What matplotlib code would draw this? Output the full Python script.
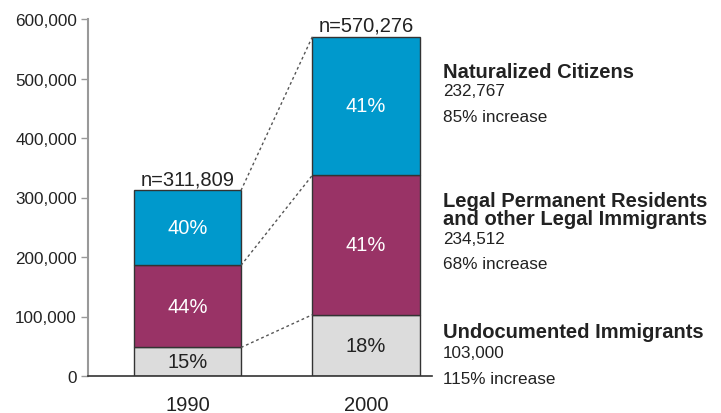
import matplotlib
matplotlib.use("Agg")
import matplotlib.pyplot as plt
from matplotlib.ticker import FuncFormatter

plt.rcParams['font.family'] = ['Liberation Sans', 'DejaVu Sans']

years = ["1990", "2000"]
undocumented = [47907, 103000]
legal_perm = [138000, 234512]
naturalized = [125902, 232767]
totals_label = ["n=311,809", "n=570,276"]
pct_undoc = ["15%", "18%"]
pct_legal = ["44%", "41%"]
pct_nat = ["40%", "41%"]

series_names = ["Undocumented Immigrants",
                "Legal Permanent Residents\nand other Legal Immigrants",
                "Naturalized Citizens"]
series_2000 = ["103,000", "234,512", "232,767"]
series_incr = ["115% increase", "68% increase", "85% increase"]

c_undoc = "#DCDCDC"
c_legal = "#993366"
c_nat = "#0099CC"
txt = "#222222"

fig = plt.figure(figsize=(7.21, 4.14), dpi=100)
ax = fig.add_axes([88/721, 37/414, (432-88)/721, (377-20)/414])

x = [0, 1]
w = 0.6
b1 = ax.bar(x, undocumented, w, color=c_undoc, edgecolor="#333333", linewidth=1)
b2 = ax.bar(x, legal_perm, w, bottom=undocumented, color=c_legal, edgecolor="#333333", linewidth=1)
bot3 = [u + l for u, l in zip(undocumented, legal_perm)]
b3 = ax.bar(x, naturalized, w, bottom=bot3, color=c_nat, edgecolor="#333333", linewidth=1)
tops = [b + n for b, n in zip(bot3, naturalized)]

# segment labels
for i in range(2):
    ax.text(x[i], undocumented[i] / 2, pct_undoc[i], ha="center", va="center",
            fontsize=14.5, color=txt)
    ax.text(x[i], undocumented[i] + legal_perm[i] / 2, pct_legal[i], ha="center",
            va="center", fontsize=14.5, color="white")
    ax.text(x[i], bot3[i] + naturalized[i] / 2, pct_nat[i], ha="center",
            va="center", fontsize=14.5, color="white")
    ax.text(x[i], tops[i] + 3000, totals_label[i], ha="center", va="bottom",
            fontsize=14.5, color=txt)

# connectors
levels_1990 = [undocumented[0], bot3[0], tops[0]]
levels_2000 = [undocumented[1], bot3[1], tops[1]]
for a, b in zip(levels_1990, levels_2000):
    ax.plot([x[0] + w / 2, x[1] - w / 2], [a, b], linestyle=(0, (2, 2)),
            color="#555555", linewidth=1)

ax.set_xlim(-0.557, 1.37)
ax.set_ylim(0, 600000)
ax.set_yticks(range(0, 600001, 100000))
ax.yaxis.set_major_formatter(FuncFormatter(lambda v, p: f"{int(v):,}"))
ax.set_xticks(x)
ax.set_xticklabels(years)
ax.tick_params(axis="x", length=0, pad=14, labelsize=14.5, labelcolor=txt)
ax.tick_params(axis="y", length=5, width=1, color="#999999", labelsize=12.3,
               labelcolor=txt, pad=3)
for s in ["top", "right"]:
    ax.spines[s].set_visible(False)
ax.spines["left"].set_color("#999999")
ax.spines["left"].set_linewidth(1.5)
ax.spines["bottom"].set_color("#333333")
ax.spines["bottom"].set_linewidth(1.2)

# right-side annotations (pixel-based positions)
def fy(py):
    return 1 - py / 414

xl = 443 / 721
fig.text(xl, fy(72), series_names[2], fontsize=14.5, fontweight="bold", color=txt, va="center")
fig.text(xl, fy(92), series_2000[2], fontsize=12.3, color=txt, va="center")
fig.text(xl, fy(118), series_incr[2], fontsize=12.3, color=txt, va="center")

fig.text(xl, fy(210.5), series_names[1], fontsize=14.5, fontweight="bold", color=txt,
         va="center", linespacing=0.95)
fig.text(xl, fy(240), series_2000[1], fontsize=12.3, color=txt, va="center")
fig.text(xl, fy(265), series_incr[1], fontsize=12.3, color=txt, va="center")

fig.text(xl, fy(333), series_names[0], fontsize=14.5, fontweight="bold", color=txt, va="center")
fig.text(xl, fy(354), series_2000[0], fontsize=12.3, color=txt, va="center")
fig.text(xl, fy(380), series_incr[0], fontsize=12.3, color=txt, va="center")

fig.savefig("out.png", dpi=100, facecolor="white")
